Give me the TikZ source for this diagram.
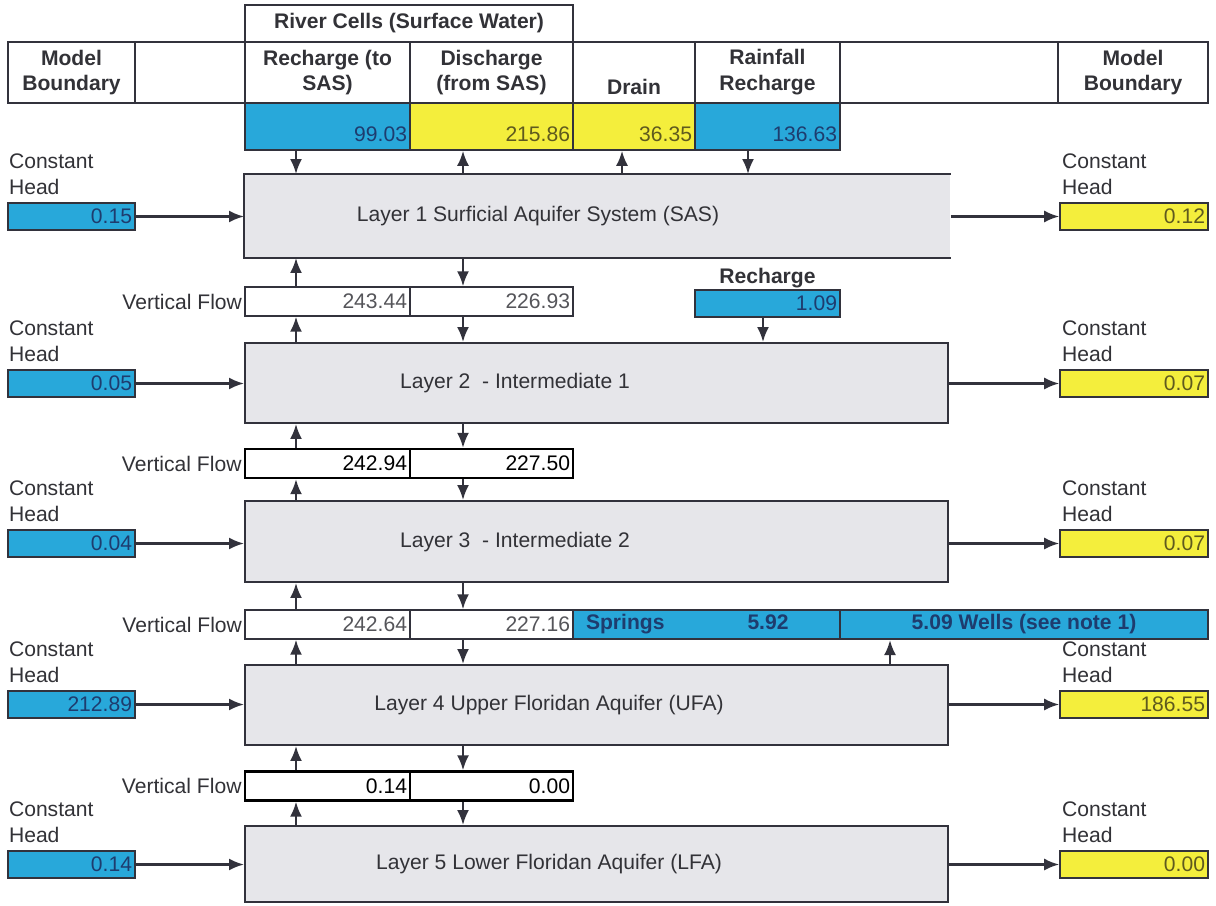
\documentclass[tikz,border=0pt]{standalone}
\usepackage{fontspec}
\setmainfont{Liberation Sans}
\usetikzlibrary{positioning,arrows.meta}

\definecolor{edge}{RGB}{50,50,60}
\definecolor{txt}{RGB}{50,50,55}
\definecolor{valgray}{RGB}{85,85,90}
\definecolor{cblue}{RGB}{40,168,218}
\definecolor{bluetxt}{RGB}{30,60,110}
\definecolor{cyellow}{RGB}{244,238,60}
\definecolor{yellowtxt}{RGB}{95,90,30}
\definecolor{layerfill}{RGB}{230,230,234}

\begin{document}
\begin{tikzpicture}[x=0.2mm, y=-0.2mm,
    >={Latex[length=3mm,width=2.4mm]},   % Pfeilspitzen
    font=\fontsize{12}{14.7}\selectfont,
    every node/.append style={text=txt},
    arr/.style={->, draw=edge, line width=1.3pt},
    hdr/.style={draw=edge, line width=1.1pt, font=\fontsize{12}{14.7}\selectfont\bfseries, align=center, inner sep=0pt, minimum height=12.2mm},
    val/.style={draw=edge, line width=0.9pt, inner xsep=0.6mm, inner ysep=0.4mm, align=right, text height=7.4mm, text depth=1.2mm},
    layer/.style={fill=layerfill, draw=edge, line width=1.1pt, inner sep=0pt, minimum width=140.6mm},
    ch/.style={draw=edge, line width=0.9pt, inner xsep=0.6mm, inner ysep=0pt, minimum height=5.4mm, align=right},
    chL/.style={ch, fill=cblue, text=bluetxt, text width=24.2mm},
    chR/.style={ch, fill=cyellow, text=yellowtxt, text width=28.4mm},
    chlab/.style={anchor=south west, inner sep=0pt, align=left},
    vf/.style={draw=edge, line width=0.8pt, inner xsep=0.6mm, inner ysep=0pt, minimum height=5.8mm, align=right, text=valgray},
    vfb/.style={vf, draw=black, line width=1.3pt, text=black},
    spr/.style={draw=edge, line width=1.2pt, fill=cblue, text=bluetxt, font=\fontsize{12}{14.7}\selectfont\bfseries, inner ysep=0pt, minimum height=5.8mm}]
    % Bildbereich
    \fill[white] (0,0) rectangle (1216,905);
    \useasboundingbox (0,0) rectangle (1216,905);
    % Spalten der Pfeile
    \coordinate (cA) at (296,0);
    \coordinate (cB) at (463,0);
    \coordinate (cC) at (622,0);
    \coordinate (cD) at (748,0);
    \coordinate (cE) at (763,0);
    \coordinate (cF) at (890,0);
    % Kopfzeile
    \node[hdr, minimum width=65.6mm, minimum height=7.4mm] (river) at (409,23.5) {River Cells (Surface Water)};
    \node[hdr, minimum width=25.4mm] (mbL) at (71.5,72.5) {Model\\Boundary};
    \node[hdr, minimum width=22mm] (gapL) at (190,72.5) {};
    \node[hdr, minimum width=33mm] (rch) at (327.5,72.5) {Recharge (to\\SAS)};
    \node[hdr, minimum width=32.6mm] (dis) at (491.5,72.5) {Discharge\\(from SAS)};
    \node[hdr, minimum width=24.4mm] (drn) at (634,72.5) {\strut\\Drain};
    \node[hdr, minimum width=29mm] (rain) at (767.5,72.5) {Rainfall\\Recharge};
    \node[hdr, minimum width=43.6mm] (gapR) at (949,72.5) {};
    \node[hdr, minimum width=30mm] (mbR) at (1133,72.5) {Model\\Boundary};
    % Werte Oberflaechenwasser
    \node[val, fill=cblue, text=bluetxt, text width=31.8mm] (v1) at (327.5,126.5) {99.03};
    \node[val, fill=cyellow, text=yellowtxt, text width=31.4mm] (v2) at (491.5,126.5) {215.86};
    \node[val, fill=cyellow, text=yellowtxt, text width=23.2mm] (v3) at (634,126.5) {36.35};
    \node[val, fill=cblue, text=bluetxt, text width=27.8mm] (v4) at (767.5,126.5) {136.63};
    % Schichten
    \node[layer, draw=none, minimum width=141mm, minimum height=16.4mm] (L1) at (597.5,216) {};
    \draw[edge, line width=1.1pt] (L1.north east) -- (L1.north west) -- (L1.south west) -- (L1.south east);
    \node[layer, minimum height=16mm] (L2) at (596.5,383) {};
    \node[layer, minimum height=16.2mm] (L3) at (596.5,541.5) {};
    \node[layer, minimum height=16mm] (L4) at (596.5,705) {};
    \node[layer, minimum height=15.2mm] (L5) at (596.5,864) {};
    \node (t1) at (538,216) {Layer 1 Surficial Aquifer System (SAS)};
    \node (t2) at (515,383) {Layer 2\ \ - Intermediate 1};
    \node (t3) at (515,542) {Layer 3\ \ - Intermediate 2};
    \node (t4) at (549,705) {Layer 4 Upper Floridan Aquifer (UFA)};
    \node (t5) at (549,864) {Layer 5 Lower Floridan Aquifer (LFA)};
    % Vertikalfluss
    \node[vf, text width=31.8mm] (f1a) at (327.5,301.5) {243.44};
    \node[vf, text width=31.4mm] (f1b) at (491.5,301.5) {226.93};
    \node[vfb, text width=31.8mm] (f2a) at (327.5,463.5) {242.94};
    \node[vfb, text width=31.4mm] (f2b) at (491.5,463.5) {227.50};
    \node[vf, text width=31.8mm] (f3a) at (327.5,624.5) {242.64};
    \node[vf, text width=31.4mm] (f3b) at (491.5,624.5) {227.16};
    \node[vfb, text width=31.8mm] (f4a) at (327.5,786) {0.14};
    \node[vfb, text width=31.4mm] (f4b) at (491.5,786) {0.00};
    \foreach \i in {1,...,4}
        \node[left=0.4mm of f\i a, inner sep=0pt] (vl\i) {Vertical Flow};
    % Neubildung, Quellen, Brunnen
    \node[ch, fill=cblue, text=bluetxt, text width=27.8mm, label={[font=\fontsize{12}{14.7}\selectfont\bfseries, text=txt, inner sep=0.5pt]above:Recharge}] (rc) at (767.5,303.5) {1.09};
    \node[spr, align=left, inner xsep=2.6mm, text width=48.2mm] (spr) at (706.5,624.5) {Springs\hspace{16.6mm}5.92};
    \node[spr, minimum width=73.6mm] (wel) at (1024,624.5) {5.09 Wells (see note 1)};
    % Festpotentialraender
    \foreach \i/\y/\a/\b in {1/216.5/0.15/0.12, 2/383.5/0.05/0.07, 3/543.5/0.04/0.07, 4/704.5/212.89/186.55, 5/864.5/0.14/0.00} {
        \node[chL] (hL\i) at (71.5,\y) {\a};
        \node[chR] (hR\i) at (1134,\y) {\b};
        \node[chlab] (cL\i) at ([xshift=0.3mm, yshift=1.4mm]hL\i.north west) {Constant\\Head};
        \node[chlab] (cR\i) at ([xshift=0.5mm, yshift=1.4mm]hR\i.north west) {Constant\\Head};
        \draw[arr] (hL\i.east) -- (hL\i.east -| L\i.west);
        \draw[arr] (L\i.east |- hR\i) -- (hR\i.west);
    }
    % Pfeile Oberflaechenwasser
    \draw[arr] (v1.south -| cA) -- (L1.north -| cA);
    \draw[arr] (L1.north -| cB) -- (v2.south -| cB);
    \draw[arr] (L1.north -| cC) -- (v3.south -| cC);
    \draw[arr] (v4.south -| cD) -- (L1.north -| cD);
    % Pfeile zwischen den Schichten
    \foreach \up/\fa/\fb/\dn in {L1/f1a/f1b/L2, L2/f2a/f2b/L3, L3/f3a/f3b/L4, L4/f4a/f4b/L5} {
        \draw[arr] (\fa.north -| cA) -- (\up.south -| cA);
        \draw[arr] (\up.south -| cB) -- (\fb.north -| cB);
        \draw[arr] (\dn.north -| cA) -- (\fa.south -| cA);
        \draw[arr] (\fb.south -| cB) -- (\dn.north -| cB);
    }
    \draw[arr] (rc.south -| cE) -- (L2.north -| cE);
    \draw[arr] (L4.north -| cF) -- (wel.south -| cF);
\end{tikzpicture}
\end{document}
